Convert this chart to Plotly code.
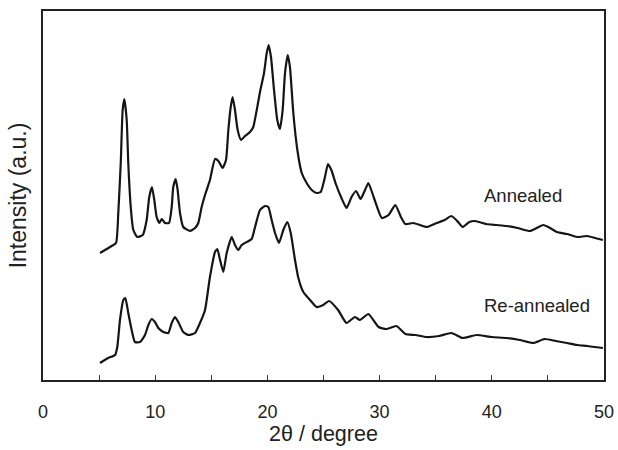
import plotly.graph_objects as go

# Annealed pattern (2θ in degree, intensity a.u.)
ann_x = [5.08, 6.12, 6.51, 6.71, 6.93, 7.10, 7.25, 7.46, 7.60, 7.82, 8.05, 8.40, 8.89, 9.24, 9.47,
         9.71, 9.92, 10.13, 10.37, 10.58, 10.87, 11.23, 11.47, 11.61, 11.83, 12.0, 12.21, 12.5,
         13.10, 13.55, 13.84, 14.14, 14.44, 14.88, 15.33, 15.63, 16.01, 16.31, 16.52, 16.73, 16.9,
         17.11, 17.35, 17.65, 18.0, 18.45, 18.74, 19.05, 19.34, 19.70, 19.94, 20.11, 20.32, 20.59,
         20.88, 21.12, 21.36, 21.57, 21.81, 22.01, 22.31, 22.67, 23.06, 23.5, 23.95, 24.39, 24.75,
         25.13, 25.4, 25.7, 26.1, 26.6, 27.05, 27.5, 27.9, 28.3, 28.7, 29.0, 29.5, 30.2, 30.8, 31.4,
         31.9, 32.3, 33.0, 33.6, 34.2, 35.1, 35.8, 36.4, 37.0, 37.4, 38.0, 38.5, 39.5, 40.4, 41.3,
         42.3, 43.4, 44.0, 44.6, 45.2, 45.8, 46.7, 47.6, 48.5, 49.2, 49.9]
ann_y = [127, 134, 137, 167, 217, 270, 281, 260, 217, 173, 150, 143, 145, 160, 183,
         193, 180, 163, 157, 161, 157, 157, 173, 193, 201, 190, 167, 153,
         149, 152, 157, 173, 185, 200, 221, 219, 212, 220, 250, 273, 283,
         270, 250, 240, 244, 248, 253, 270, 288, 307, 327, 335, 323, 290,
         260, 251, 270, 307, 325, 313, 267, 230, 207, 197, 190, 187, 188,
         203, 216, 210, 196, 182, 172, 183, 189, 181, 190, 197, 182, 162, 165, 175,
         163, 156, 157, 155, 153, 157, 160, 164, 158, 153, 158, 159, 156, 155, 154,
         152, 149, 152, 155, 152, 148, 146, 143, 144, 142, 140]

# Re-annealed pattern
re_x = [5.08, 5.82, 6.42, 6.62, 6.86, 7.16, 7.34, 7.60, 7.9, 8.2, 8.65, 9.09, 9.39, 9.69, 9.98,
        10.28, 10.72, 11.17, 11.47, 11.76, 12.06, 12.5, 12.95, 13.55, 13.99, 14.44, 14.88, 15.33,
        15.54, 15.78, 16.07, 16.37, 16.82, 17.11, 17.41, 17.71, 18.16, 18.6, 18.9, 19.34, 19.79,
        20.08, 20.38, 20.68, 21.03, 21.42, 21.77, 22.08, 22.46, 22.76, 23.2, 23.8, 24.39, 24.98,
        25.5, 26.3, 27.05, 27.8, 28.25, 29.0, 29.9, 30.6, 31.5, 32.3, 33.2, 34.2, 35.3, 36.4,
        37.4, 38.65, 40.0, 41.3, 42.5, 43.7, 44.7, 45.7, 46.7, 47.6, 48.5, 49.9]
re_y = [17, 22, 25, 33, 60, 80, 82, 67, 50, 38, 38, 45, 55, 61, 58,
        52, 48, 47, 57, 63, 58, 48, 45, 47, 57, 70, 103, 128,
        131, 120, 108, 127, 143, 135, 130, 135, 138, 141, 153, 170, 174,
        173, 160, 147, 137, 150, 158, 147, 120, 102, 88, 80, 73, 75,
        79, 70, 57, 63, 60, 66, 53, 51, 54, 46, 45, 43, 44, 47,
        42, 45, 43, 42, 40, 37, 41, 39, 37, 35, 34, 32]

labels = ["Annealed", "Re-annealed"]
label_x = [39.1, 39.1]
label_y = [185, 75]

x_ticks = [0, 10, 20, 30, 40, 50]

font = "Liberation Sans, Arial, Helvetica, sans-serif"
line_style = dict(color="#151515", width=2.2, shape="spline", smoothing=0.5)
fig = go.Figure()
fig.add_trace(go.Scatter(x=ann_x, y=ann_y, mode="lines", line=line_style, showlegend=False))
fig.add_trace(go.Scatter(x=re_x, y=re_y, mode="lines", line=line_style, showlegend=False))
for t, xx, yy in zip(labels, label_x, label_y):
    fig.add_annotation(x=xx, y=yy, text=t, showarrow=False, xanchor="left", yanchor="middle",
                       font=dict(size=18.5, color="#222", family=font))

fig.update_layout(
    width=618, height=450,
    margin=dict(l=43, r=14, t=11, b=70),
    paper_bgcolor="white", plot_bgcolor="white",
    font=dict(family=font, color="#222"),
    xaxis=dict(range=[0, 50], tickvals=x_ticks, ticks="inside", ticklen=5, tickcolor="#333",
               minor=dict(dtick=5, ticks="inside", ticklen=5, tickcolor="#333"),
               showline=True, linecolor="#222", linewidth=1.5, mirror=True, showgrid=False, zeroline=False,
               tickfont=dict(size=18), ticklabelstandoff=15, automargin=False,
               title=dict(text="2θ / degree", font=dict(size=21.5), standoff=4)),
    yaxis=dict(range=[0, 369], showticklabels=False, ticks="", showline=True, linecolor="#222",
               linewidth=1.5, mirror=True, showgrid=False, zeroline=False, automargin=False,
               title=dict(text="Intensity (a.u.)", font=dict(size=23), standoff=8)),
)
fig.write_html("out.html")
